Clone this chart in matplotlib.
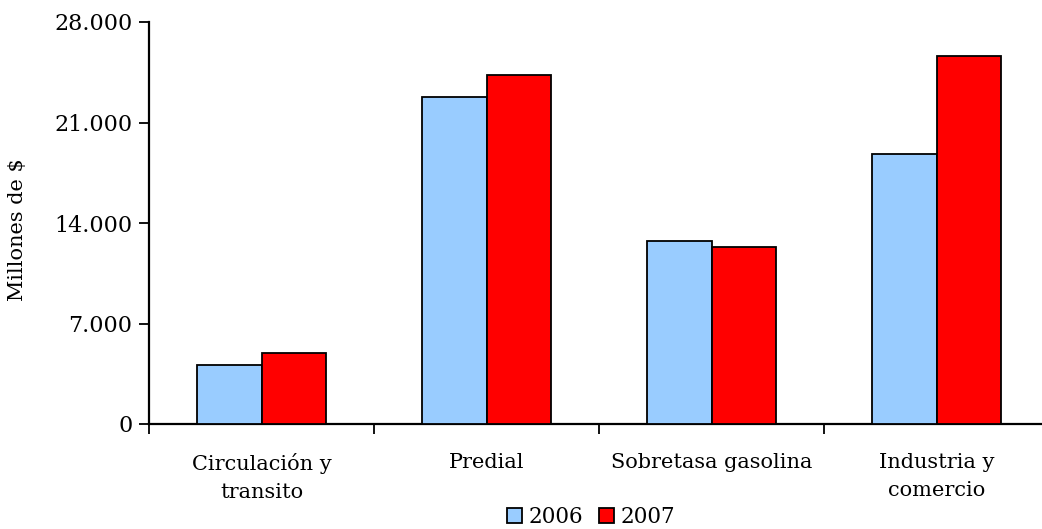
import matplotlib
matplotlib.use("Agg")
import matplotlib.pyplot as plt
import numpy as np
from matplotlib.patches import Patch

categories = ["Circulación y\ntransito", "Predial", "Sobretasa gasolina", "Industria y\ncomercio"]
series_2006 = [4100, 22750, 12750, 18800]
series_2007 = [4950, 24300, 12350, 25650]
years = ["2006", "2007"]
yticks = [0, 7000, 14000, 21000, 28000]
ytick_labels = ["0", "7.000", "14.000", "21.000", "28.000"]

c06 = "#99CCFF"
c07 = "#FF0000"
font = "DejaVu Serif"

fig = plt.figure(figsize=(10.42, 5.29), dpi=100)
ax = fig.add_axes([149/1042, 105/529, 900/1042, 402/529])

x = np.arange(len(categories))
w = 0.285
ax.bar(x - w/2, series_2006, width=w, color=c06, edgecolor="black", linewidth=1.3, zorder=3)
ax.bar(x + w/2, series_2007, width=w, color=c07, edgecolor="black", linewidth=1.3, zorder=3)

ax.set_xlim(-0.5, len(categories) - 0.5)
ax.set_ylim(0, 28000)
ax.set_yticks(yticks)
ax.set_yticklabels(ytick_labels, fontfamily=font, fontsize=16)
ax.set_xticks(x)
ax.set_xticklabels(categories, fontfamily=font, fontsize=15, linespacing=1.6)
ax.tick_params(axis="x", which="major", length=0, pad=21)
ax.set_xticks(np.arange(-0.5, len(categories) + 0.5, 1), minor=True)
ax.tick_params(axis="x", which="minor", length=7, width=1.3, direction="out")
ax.tick_params(axis="y", length=7, width=1.3, direction="out", pad=5)

for s in ["top", "right"]:
    ax.spines[s].set_visible(False)
for s in ["left", "bottom"]:
    ax.spines[s].set_linewidth(1.6)
    ax.spines[s].set_color("black")

fig.text(18/1042, 1 - 230/529, "Millones de $", rotation=90, ha="center", va="center",
         fontfamily=font, fontsize=15)

handles = [Patch(facecolor=c06, edgecolor="black", linewidth=1.3),
           Patch(facecolor=c07, edgecolor="black", linewidth=1.3)]
fig.legend(handles, years, loc="center", bbox_to_anchor=(591/1042, 1 - 517/529), ncol=2,
           frameon=False, prop={"family": font, "size": 15.5}, handlelength=0.7,
           handleheight=0.7, handletextpad=0.3, columnspacing=0.7, borderpad=0)

fig.savefig("out.png", dpi=100)
